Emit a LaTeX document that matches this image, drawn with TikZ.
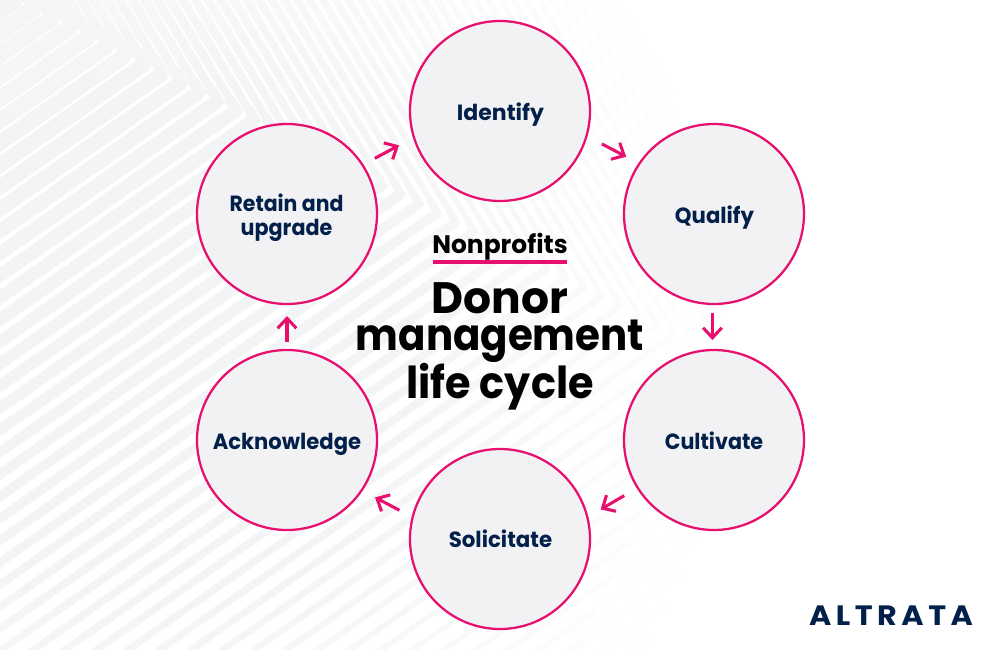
\documentclass[tikz,border=0pt]{standalone}
\usepackage{fontspec}
\setmainfont{Poppins}
\newfontfamily\logofont[LetterSpace=15]{Poppins}
\usetikzlibrary{arrows.meta}
\definecolor{pinkline}{HTML}{E8106F}
\definecolor{navytext}{HTML}{03204A}
\definecolor{discfill}{HTML}{F2F2F4}
\definecolor{stripegray}{HTML}{F3F4F5}
\tikzset{
  stage/.style={circle,draw=pinkline,fill=discfill,line width=1.7pt,minimum size=135pt,inner sep=0pt,outer sep=0pt},
  stagetext/.style={text=navytext,font=\bfseries\fontsize{16.5pt}{18pt}\selectfont,inner sep=0pt,anchor=base},
  titletext/.style={text=black,font=\bfseries\fontsize{33pt}{36pt}\selectfont,inner sep=0pt,anchor=base},
  cyclearrow/.style={draw=pinkline,line width=2.3pt,-{Straight Barb[length=7.5pt,width=14pt,line width=2.3pt]}}
}
\newcommand{\stripeparams}[3]{%
  \pgfmathsetmacro\dd{100*veclen((#1-150)/100,(#2-350)/100)}%
  \pgfmathsetmacro\dz{100*veclen((#1)/100,(#2)/100)}%
  \pgfmathsetmacro\al{max(0,min(100,100*max(1.8-\dd/330,1-\dz/400)))}%
  \pgfmathsetmacro\fr{max(0.3,0.97-\dz/1100)}%
  \pgfmathsetmacro\wd{#3*\fr*0.75}%
}
\begin{document}
\begin{tikzpicture}[x=0.75pt,y=-0.75pt]
\useasboundingbox (0,0) rectangle (1000,650);
\fill[white] (0,0) rectangle (1000,650);
\begin{scope}
\clip (0,0) rectangle (1000,650);
\foreach \i in {-2,...,48}{
  \pgfmathsetmacro\ax{35+18.3*\i}
  \pgfmathsetmacro\ay{8+9.3*\i}
  \stripeparams{\ax}{\ay}{14}
  \ifdim\al pt>0.5pt
    \draw[stripegray!\al!white,line width=\wd pt,line join=miter,miter limit=10]
      (\ax-0.514*14,\ay-0.857*14) -- (\ax,\ay) -- (\ax-0.82*14,\ay+0.573*14);
  \fi
  \foreach \k in {0,...,16}{
    \pgfmathsetmacro\sa{\k*40}
    \pgfmathsetmacro\sb{\k*40+41}
    \pgfmathsetmacro\mx{\ax-0.514*(\sa+20)}
    \pgfmathsetmacro\my{\ay-0.857*(\sa+20)}
    \stripeparams{\mx}{\my}{10.9}
    \pgfmathsetmacro\vis{(\my>-40 && \my<690 && \mx>-40 && \mx<1040 && \al>0.5) ? 1 : 0}
    \ifdim\vis pt>0.5pt
      \draw[stripegray!\al!white,line width=\wd pt]
        (\ax-0.514*\sa,\ay-0.857*\sa) -- (\ax-0.514*\sb,\ay-0.857*\sb);
    \fi
  }
  \foreach \k in {0,...,28}{
    \pgfmathsetmacro\sa{\k*40}
    \pgfmathsetmacro\sb{\k*40+41}
    \pgfmathsetmacro\mx{\ax-0.82*(\sa+20)}
    \pgfmathsetmacro\my{\ay+0.573*(\sa+20)}
    \stripeparams{\mx}{\my}{18.1}
    \pgfmathsetmacro\vis{(\my>-40 && \my<690 && \mx>-40 && \mx<1040 && \al>0.5) ? 1 : 0}
    \ifdim\vis pt>0.5pt
      \draw[stripegray!\al!white,line width=\wd pt]
        (\ax-0.82*\sa,\ay+0.573*\sa) -- (\ax-0.82*\sb,\ay+0.573*\sb);
    \fi
  }
}
\end{scope}

\node[stage] (identify) at (500,111) {};
\node[stage] (qualify) at (714,214) {};
\node[stage] (cultivate) at (714,440) {};
\node[stage] (solicitate) at (500,539) {};
\node[stage] (acknowledge) at (287,440) {};
\node[stage] (retain) at (287,214) {};

\node[stagetext] (tidentify) at (500.5,120) {Identify};
\node[stagetext] (tqualify) at (714.5,223) {\scalebox{0.965}[1]{Qualify}};
\node[stagetext] (tcultivate) at (714,449) {\scalebox{0.94}[1]{Cultivate}};
\node[stagetext] (tsolicitate) at (500.5,547) {\scalebox{0.97}[1]{Solicitate}};
\node[stagetext] (tacknowledge) at (287,449) {\scalebox{0.96}[1]{Acknowledge}};
\node[stagetext] (tretain) at (286.5,211) {\scalebox{0.93}[1]{Retain and}};
\node[stagetext] (tupgrade) at (286.5,235) {\scalebox{0.94}[1]{upgrade}};

\draw[cyclearrow,shorten <=10.5pt,shorten >=12.7pt] (retain.33) -- (identify.197);
\draw[cyclearrow,shorten <=13pt,shorten >=11.2pt] (identify.-16) -- (qualify.146);
\draw[cyclearrow,shorten <=6.7pt,shorten >=7.5pt] (qualify.-91) -- (cultivate.91);
\draw[cyclearrow,shorten <=11.7pt,shorten >=11.6pt] (cultivate.212.6) -- (solicitate.14.8);
\draw[cyclearrow,shorten <=11.2pt,shorten >=11.4pt] (solicitate.166) -- (acknowledge.-34);
\draw[cyclearrow,shorten <=6pt,shorten >=9pt] (acknowledge.90) -- (retain.-90);

\node[inner sep=0pt,anchor=base,text=black,font=\bfseries\fontsize{19pt}{22pt}\selectfont] (kicker) at (500,253) {\scalebox{0.985}[1]{Nonprofits}};
\fill[pinkline] (433,260) rectangle (567,263.5);
\node[titletext] (t1) at (500,313) {Donor};
\node[titletext] (t2) at (500,350) {\scalebox{0.917}[1]{management}};
\node[titletext] (t3) at (500,398) {\scalebox{0.94}[1]{life cycle}};
\node[inner sep=0pt,anchor=base,text=navytext,font=\logofont\bfseries\fontsize{21pt}{22pt}\selectfont] (logo) at (891,625) {\scalebox{1.08}[1]{ALTRATA}};
\end{tikzpicture}
\end{document}
